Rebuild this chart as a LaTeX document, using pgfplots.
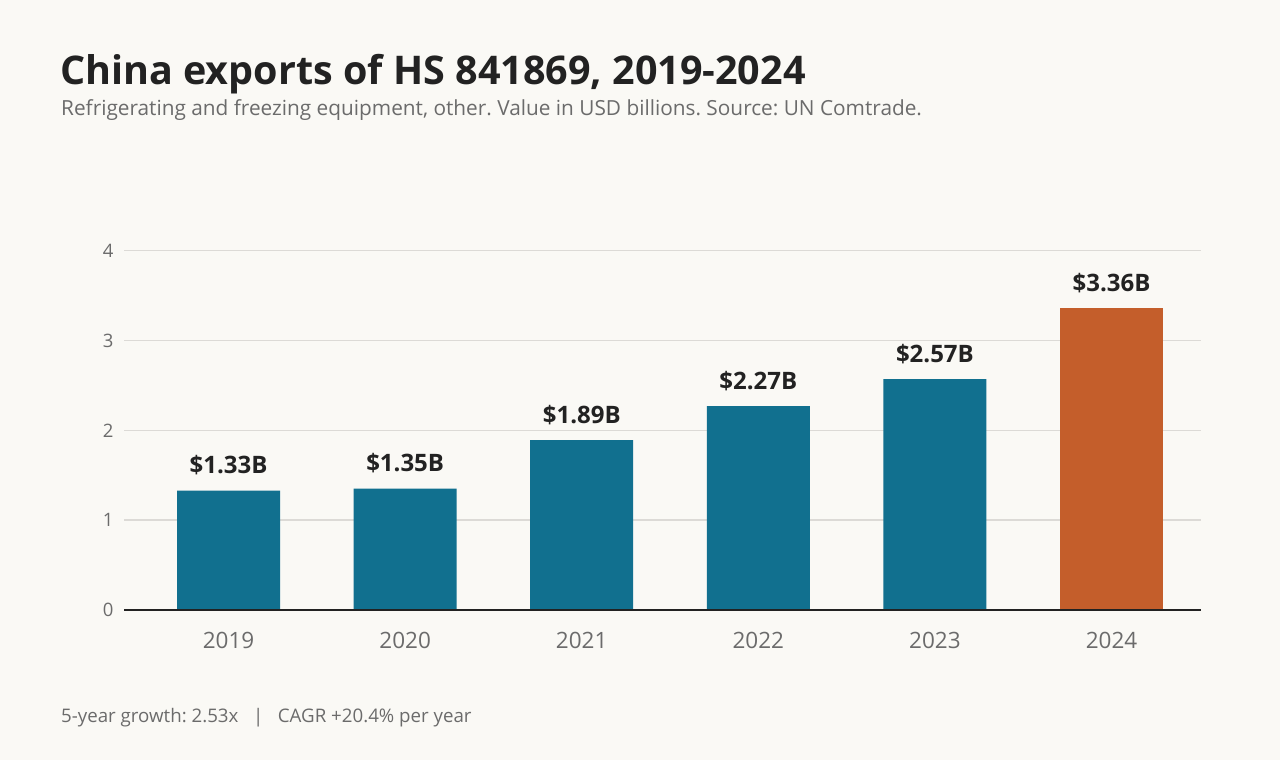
\documentclass[border=0pt]{standalone}
\usepackage{pgfplots}
\pgfplotsset{compat=1.18}
\usepackage{fontspec}
\setmainfont{Open Sans}
\frenchspacing
\definecolor{bg}{HTML}{FAF9F5}
\definecolor{teal}{HTML}{11708F}
\definecolor{orng}{HTML}{C45E2B}
\definecolor{dark}{HTML}{222222}
\definecolor{gry}{HTML}{6B6B6B}
\definecolor{gridc}{HTML}{DCDAD6}
\begin{document}
\begin{tikzpicture}[x=1pt,y=1pt]
\fill[bg] (0,0) rectangle (1280,760);
\node[anchor=base west,inner sep=0,text=dark] at (60,675) {\fontsize{39.5}{44}\selectfont\bfseries China exports of HS 841869, 2019-2024};
\node[anchor=base west,inner sep=0,text=gry] at (61,644) {\fontsize{20.8}{24}\selectfont Refrigerating and freezing equipment, other. Value in USD billions. Source: UN Comtrade.};
\node[anchor=base west,inner sep=0,text=gry] at (61,37) {\fontsize{18.7}{22}\selectfont 5-year growth: 2.53x\ \ \ |\ \ \ CAGR +20.4\% per year};
\begin{axis}[
  at={(124pt,150pt)}, anchor=south west,
  scale only axis, width=1077pt, height=359.3pt,
  xmin=-0.592, xmax=5.507, ymin=0, ymax=4,
  axis line style={draw=none},
  ytick={0,1,2,3,4},
  xtick={0,1,2,3,4,5},
  xticklabels={2019,2020,2021,2022,2023,2024},
  major tick length=0pt,
  ymajorgrids, xmajorgrids=false,
  major grid style={draw=gridc, line width=1.4pt},
  /pgf/number format/assume math mode=true,
  yticklabel style={text=gry, font=\fontsize{18.5}{22}\selectfont, xshift=-7pt},
  xticklabel style={text=gry, font=\fontsize{22.5}{26}\selectfont, yshift=-19pt},
  ybar, bar width=103pt, bar shift=0pt,
  clip=false,
  nodes near coords={\$\pgfmathprintnumber[fixed,fixed zerofill,precision=2]{\pgfplotspointmeta}B},
  nodes near coords style={anchor=base, yshift=17pt, text=dark, font=\fontsize{24}{28}\selectfont\bfseries},
]
\addplot[fill=teal, draw=none] coordinates {(0,1.33) (1,1.35) (2,1.89) (3,2.27) (4,2.57)};
\addplot[fill=orng, draw=none] coordinates {(5,3.36)};
\draw[dark, line width=2.5pt] (axis cs:-0.592,0) -- (axis cs:5.507,0);
\end{axis}
\end{tikzpicture}
\end{document}
